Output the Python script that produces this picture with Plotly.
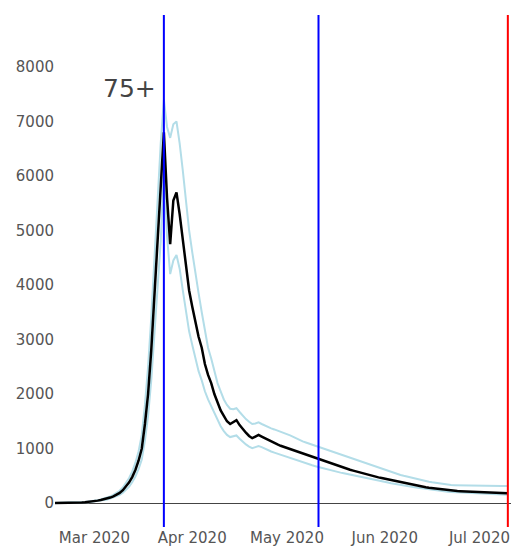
import pandas as pd
import plotly.graph_objects as go

# Daily dates from 17 Feb 2020 to 10 Jul 2020
dates = pd.date_range("2020-02-17", "2020-07-10", freq="D")

central = [
    0, 0, 1, 1, 2, 3, 4, 6, 8, 11, 15, 20, 27,
    35, 44, 55, 68, 83, 100, 122, 150, 185, 235, 300, 380, 480, 610, 780, 1000,
    1450, 2000, 2800, 3800, 4900, 5900, 6800,
    5600, 4750, 5550, 5700, 5300, 4800, 4300, 3900, 3600, 3300, 3050, 2850, 2550,
    2350, 2200, 2000, 1850, 1700, 1600, 1500, 1450, 1480, 1520, 1430, 1350, 1290,
    1230, 1190, 1220, 1250, 1220, 1190, 1150, 1120,
    1095, 1075, 1050, 1030, 1010, 985, 965, 940, 920, 900, 880, 860, 840, 820, 800,
    780, 760, 740, 720, 700, 685, 665, 645, 628, 610, 595, 578, 562, 545, 530, 515,
    500, 485, 470, 458, 445, 432, 420, 408, 396, 385, 372, 360, 348, 336, 324, 312,
    300, 290, 280, 272, 264, 256, 248, 240, 232, 225, 222, 219, 216, 213, 210, 207,
    205, 202, 200, 198, 196, 194, 192, 190, 188, 186, 183, 180,
]

upper = [
    0, 0, 1, 2, 3, 4, 5, 7, 10, 13, 18, 24, 32,
    42, 53, 66, 82, 100, 122, 148, 182, 225, 285, 365, 460, 580, 740, 950, 1250,
    1800, 2500, 3400, 4500, 5600, 6600, 7400,
    6900, 6700, 6950, 7000, 6600, 6100, 5500, 5000, 4600, 4200, 3850, 3500, 3150,
    2850, 2650, 2400, 2200, 2050, 1900, 1800, 1730, 1720, 1740, 1670, 1600, 1540,
    1490, 1450, 1460, 1480, 1450, 1420, 1390, 1370,
    1350, 1330, 1310, 1290, 1265, 1240, 1215, 1185, 1150, 1130, 1110, 1090, 1070,
    1050, 1030, 1010, 990, 970, 950, 930, 905, 885, 865, 845, 825, 805, 785, 765,
    745, 725, 705, 685, 665, 645, 625, 605, 585, 565, 548, 530, 515, 500, 485, 470,
    455, 440, 428, 416, 404, 392, 380, 370, 360, 350, 342, 336, 330, 328, 326, 324,
    322, 320, 319, 318, 317, 316, 315, 314, 313, 312, 311, 311, 310, 310, 310,
]

lower = [
    0, 0, 1, 1, 1, 2, 3, 5, 6, 9, 12, 16, 22,
    28, 35, 44, 54, 66, 80, 98, 120, 148, 188, 240, 300, 385, 490, 625, 800,
    1150, 1600, 2250, 3050, 3950, 4800, 6200,
    4900, 4200, 4450, 4550, 4300, 3900, 3500, 3150, 2900, 2650, 2420, 2250, 2050,
    1900, 1780, 1630, 1510, 1410, 1320, 1250, 1210, 1220, 1240, 1180, 1120, 1075,
    1035, 1005, 1025, 1045, 1025, 995, 970, 945,
    925, 905, 885, 865, 845, 825, 805, 782, 760, 742, 725, 708, 692, 676, 660, 645,
    630, 615, 600, 585, 572, 558, 545, 532, 520, 508, 496, 484, 472, 460, 448, 436,
    424, 412, 400, 388, 376, 364, 352, 341, 330, 321, 312, 303, 294, 285, 276, 268,
    260, 252, 244, 236, 228, 220, 213, 206, 200, 197, 194, 191, 188, 185, 182, 179,
    176, 173, 170, 167, 164, 161, 158, 156, 154, 152, 150,
]

event_dates = ["2020-03-23", "2020-05-11", "2020-07-10"]
event_colors = ["blue", "blue", "red"]
y_ticks = [0, 1000, 2000, 3000, 4000, 5000, 6000, 7000, 8000]
group_label = "75+"

fig = go.Figure()
fig.add_trace(go.Scatter(x=dates, y=upper, mode="lines",
                         line=dict(color="#b3dde8", width=2), hoverinfo="skip"))
fig.add_trace(go.Scatter(x=dates, y=lower, mode="lines",
                         line=dict(color="#b3dde8", width=2), hoverinfo="skip"))
fig.add_trace(go.Scatter(x=dates, y=central, mode="lines",
                         line=dict(color="black", width=2.5)))

for d, c in zip(event_dates, event_colors):
    fig.add_shape(type="line", xref="x", yref="paper", x0=d, x1=d, y0=0, y1=1,
                  line=dict(color=c, width=2))

fig.add_annotation(text=group_label, xref="paper", yref="paper", x=0.164, y=0.857,
                   xanchor="center", yanchor="middle", showarrow=False,
                   font=dict(size=25, color="#444", family="DejaVu Sans"))

fig.update_layout(
    width=513, height=559,
    margin=dict(l=55, r=2, t=15, b=32, autoexpand=False),
    paper_bgcolor="white", plot_bgcolor="white",
    showlegend=False,
    font=dict(family="DejaVu Sans", size=15, color="#444"),
)
fig.update_xaxes(range=["2020-02-17 12:00", "2020-07-11"], showgrid=False,
                 zeroline=False, showline=False, dtick="M1", tickformat="%b %Y",
                 automargin=False, tickfont=dict(size=15, color="#555"))
fig.update_yaxes(range=[-440, 8954], tickvals=y_ticks, showgrid=False,
                 zeroline=True, zerolinecolor="#444", zerolinewidth=1,
                 automargin=False, showline=False, tickfont=dict(size=15, color="#555"))

fig.write_html("out.html", config={"displayModeBar": False},
               post_script="document.body.style.margin='0px';document.body.style.overflow='hidden';")
